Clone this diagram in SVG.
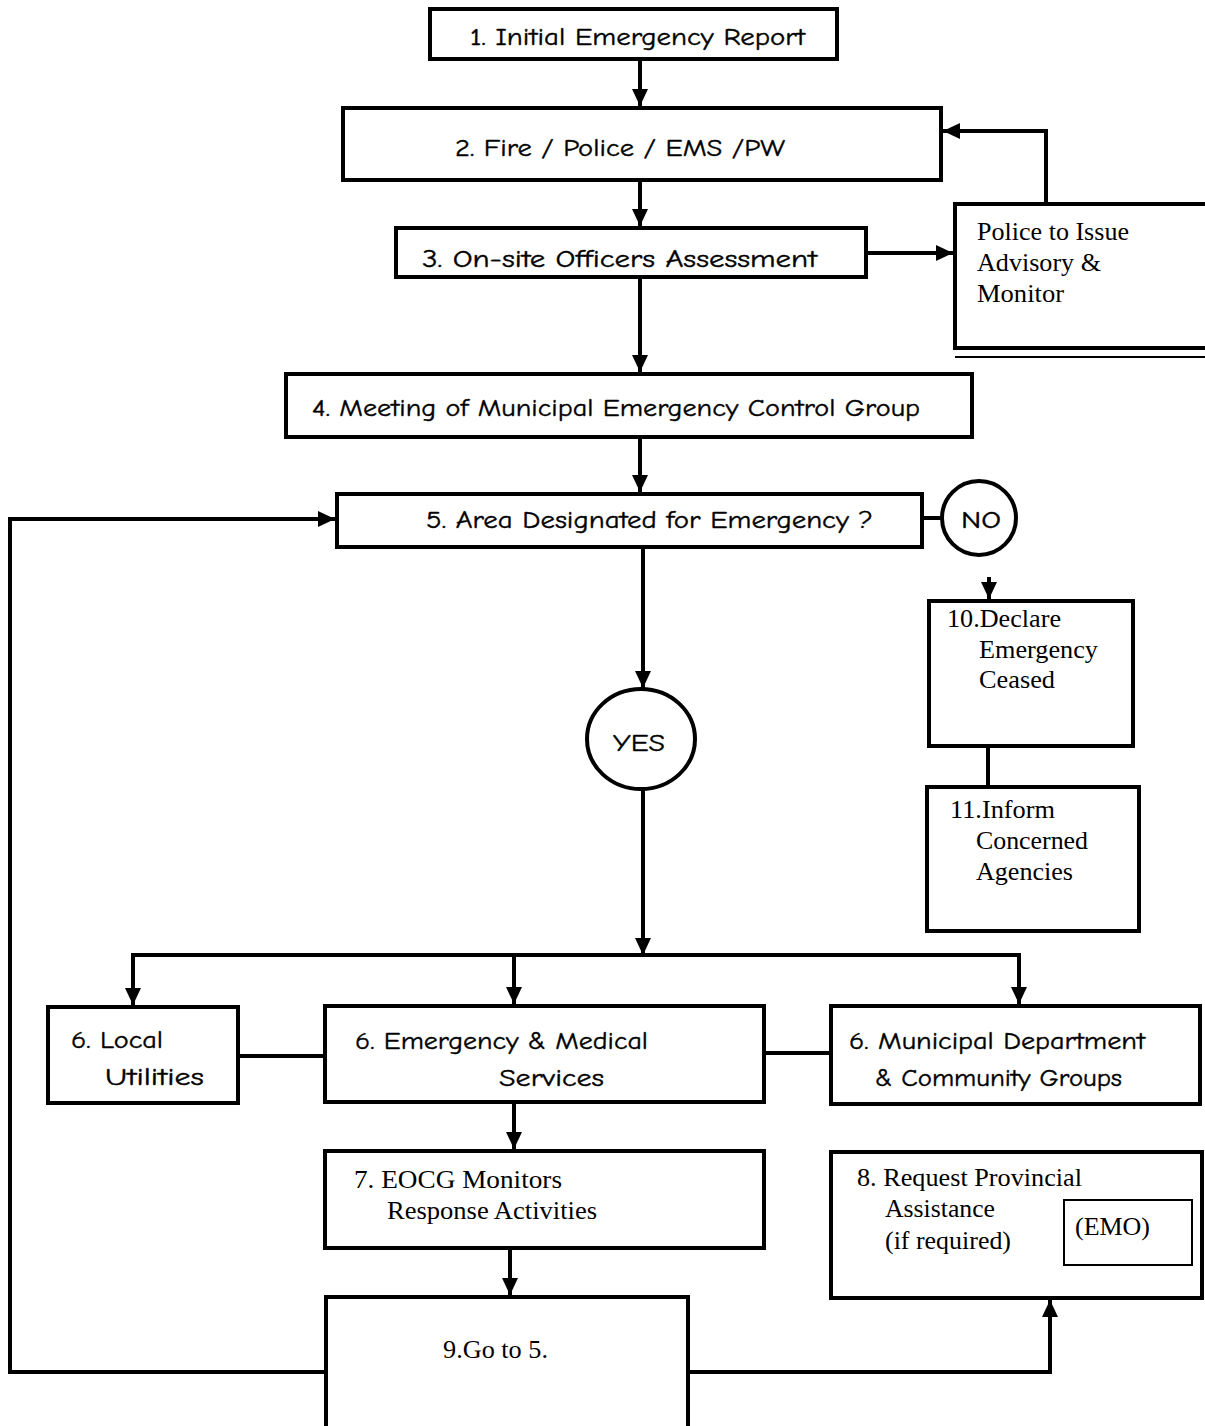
<svg xmlns="http://www.w3.org/2000/svg" width="1205" height="1426" viewBox="0 0 1205 1426">
<style>
.box{fill:#fff;stroke:#000;stroke-width:4}
.thin{fill:none;stroke:#000;stroke-width:2}
.c{fill:none;stroke:#000;stroke-width:4}
.s{font-family:"Comic Sans MS","Comic Neue","DejaVu Sans",sans-serif;font-size:25px;fill:#000;stroke:#000;stroke-width:0.4}
.r{font-family:"Liberation Serif","Times New Roman",serif;font-size:25px;fill:#000}
</style>
<defs>
<marker id="a" markerUnits="userSpaceOnUse" markerWidth="18" markerHeight="16" refX="17" refY="8" orient="auto">
<path d="M0,0 L17,8 L0,16 z" fill="#000"/>
</marker>
</defs>
<rect width="1205" height="1426" fill="#fff"/>
<g id="connectors">
<line class="c" x1="640" y1="59" x2="640" y2="106" marker-end="url(#a)"/>
<line class="c" x1="640" y1="180" x2="640" y2="226" marker-end="url(#a)"/>
<line class="c" x1="866" y1="253" x2="953" y2="253" marker-end="url(#a)"/>
<polyline class="c" points="1046,204 1046,131 943,131" marker-end="url(#a)"/>
<line class="c" x1="640" y1="277" x2="640" y2="372" marker-end="url(#a)"/>
<line class="c" x1="640" y1="437" x2="640" y2="492" marker-end="url(#a)"/>
<line class="c" x1="922" y1="518" x2="942" y2="518"/>
<line class="c" x1="989" y1="577" x2="989" y2="599" marker-end="url(#a)"/>
<line class="c" x1="988" y1="740" x2="988" y2="787"/>
<line class="c" x1="643" y1="547" x2="643" y2="688" marker-end="url(#a)"/>
<line class="c" x1="643" y1="789" x2="643" y2="955" marker-end="url(#a)"/>
<polyline class="c" points="131,955 1019,955 1019,1004" marker-end="url(#a)"/>
<line class="c" x1="133" y1="955" x2="133" y2="1005" marker-end="url(#a)"/>
<line class="c" x1="514" y1="955" x2="514" y2="1004" marker-end="url(#a)"/>
<line class="c" x1="238" y1="1056" x2="325" y2="1056"/>
<line class="c" x1="764" y1="1053" x2="831" y2="1053"/>
<line class="c" x1="514" y1="1102" x2="514" y2="1149" marker-end="url(#a)"/>
<line class="c" x1="510" y1="1250" x2="510" y2="1295" marker-end="url(#a)"/>
<polyline class="c" points="326,1372 10,1372 10,519 335,519" marker-end="url(#a)"/>
<polyline class="c" points="688,1372 1050,1372 1050,1300" marker-end="url(#a)"/>
</g>
<g id="n1"><rect class="box" x="430" y="9" width="407" height="50"/>
<text class="s" x="470" y="45" textLength="335" lengthAdjust="spacingAndGlyphs">1. Initial Emergency Report</text></g>
<g id="n2"><rect class="box" x="343" y="108" width="598" height="72"/>
<text class="s" x="455" y="156" textLength="330" lengthAdjust="spacingAndGlyphs">2. Fire / Police / EMS /PW</text></g>
<g id="n3"><rect class="box" x="396" y="228" width="470" height="49"/>
<text class="s" x="422" y="267" textLength="395" lengthAdjust="spacingAndGlyphs">3. On-site Officers Assessment</text></g>
<g id="police"><rect class="box" x="955" y="204" width="260" height="144"/>
<line class="thin" x1="955" y1="357" x2="1205" y2="357"/>
<text class="r" x="977" y="240" textLength="152" lengthAdjust="spacingAndGlyphs">Police to Issue</text>
<text class="r" x="977" y="271" textLength="124" lengthAdjust="spacingAndGlyphs">Advisory &amp;</text>
<text class="r" x="977" y="302" textLength="87" lengthAdjust="spacingAndGlyphs">Monitor</text></g>
<g id="n4"><rect class="box" x="286" y="374" width="686" height="63"/>
<text class="s" x="312" y="416" textLength="608" lengthAdjust="spacingAndGlyphs">4. Meeting of Municipal Emergency Control Group</text></g>
<g id="n5"><rect class="box" x="337" y="494" width="585" height="53"/>
<text class="s" x="426" y="528" textLength="447" lengthAdjust="spacingAndGlyphs">5. Area Designated for Emergency ?</text></g>
<g id="no"><circle class="box" cx="979" cy="518" r="37" stroke-width="3"/>
<text class="s" x="981" y="528" text-anchor="middle" font-size="27" textLength="40" lengthAdjust="spacingAndGlyphs" stroke-width="0.2">NO</text></g>
<g id="yes"><ellipse class="box" cx="641" cy="739" rx="54" ry="50"/>
<text class="s" x="639" y="751" text-anchor="middle" font-size="27" textLength="52" lengthAdjust="spacingAndGlyphs">YES</text></g>
<g id="n10"><rect class="box" x="929" y="601" width="204" height="145"/>
<text class="r" x="947" y="627" textLength="114" lengthAdjust="spacingAndGlyphs">10.Declare</text>
<text class="r" x="979" y="658" textLength="119" lengthAdjust="spacingAndGlyphs">Emergency</text>
<text class="r" x="979" y="688" textLength="76" lengthAdjust="spacingAndGlyphs">Ceased</text></g>
<g id="n11"><rect class="box" x="927" y="787" width="212" height="144"/>
<text class="r" x="950" y="818" textLength="105" lengthAdjust="spacingAndGlyphs">11.Inform</text>
<text class="r" x="976" y="849" textLength="112" lengthAdjust="spacingAndGlyphs">Concerned</text>
<text class="r" x="976" y="880" textLength="97" lengthAdjust="spacingAndGlyphs">Agencies</text></g>
<g id="n6a"><rect class="box" x="48" y="1007" width="190" height="96"/>
<text class="s" x="71" y="1048" textLength="92" lengthAdjust="spacingAndGlyphs">6. Local</text>
<text class="s" x="105" y="1085" textLength="99" lengthAdjust="spacingAndGlyphs">Utilities</text></g>
<g id="n6b"><rect class="box" x="325" y="1006" width="439" height="96"/>
<text class="s" x="355" y="1049" textLength="293" lengthAdjust="spacingAndGlyphs">6. Emergency &amp; Medical</text>
<text class="s" x="499" y="1086" textLength="105" lengthAdjust="spacingAndGlyphs">Services</text></g>
<g id="n6c"><rect class="box" x="831" y="1006" width="369" height="98"/>
<text class="s" x="849" y="1049" textLength="296" lengthAdjust="spacingAndGlyphs">6. Municipal Department</text>
<text class="s" x="875" y="1086" textLength="247" lengthAdjust="spacingAndGlyphs">&amp; Community Groups</text></g>
<g id="n7"><rect class="box" x="325" y="1151" width="439" height="97"/>
<text class="r" x="354" y="1188" textLength="208" lengthAdjust="spacingAndGlyphs">7.  EOCG Monitors</text>
<text class="r" x="387" y="1219" textLength="210" lengthAdjust="spacingAndGlyphs">Response Activities</text></g>
<g id="n8"><rect class="box" x="831" y="1152" width="371" height="146"/>
<text class="r" x="857" y="1186" textLength="225" lengthAdjust="spacingAndGlyphs">8. Request Provincial</text>
<text class="r" x="885" y="1217" textLength="110" lengthAdjust="spacingAndGlyphs">Assistance</text>
<text class="r" x="885" y="1249" textLength="126" lengthAdjust="spacingAndGlyphs">(if required)</text>
<rect class="thin" x="1064" y="1200" width="128" height="65"/>
<text class="r" x="1075" y="1235" textLength="75" lengthAdjust="spacingAndGlyphs">(EMO)</text></g>
<g id="n9"><rect class="box" x="326" y="1297" width="362" height="135"/>
<text class="r" x="443" y="1358" textLength="105" lengthAdjust="spacingAndGlyphs">9.Go to 5.</text></g>
</svg>
